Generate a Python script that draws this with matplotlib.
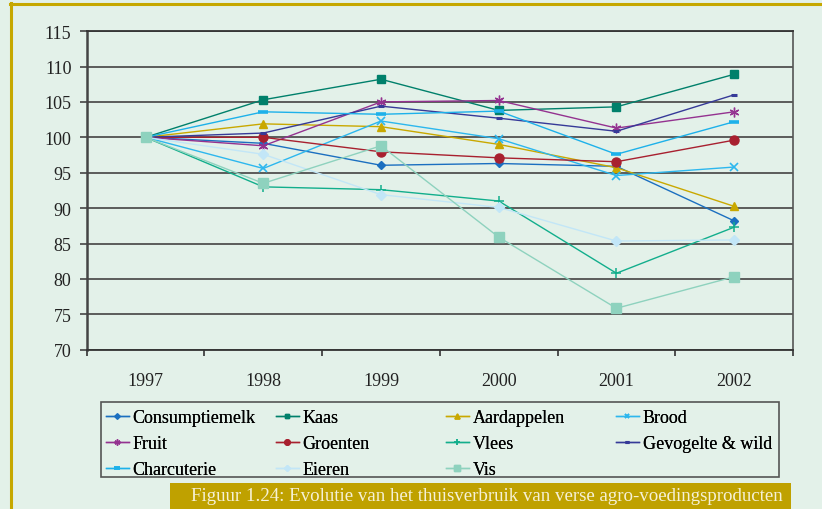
import matplotlib
matplotlib.use("Agg")
import matplotlib.pyplot as plt
from matplotlib.patches import Rectangle
from matplotlib.lines import Line2D

years = ["1997", "1998", "1999", "2000", "2001", "2002"]

consumptiemelk = [100, 99.15, 96.05, 96.3, 95.9, 88.2]
kaas = [100, 105.3, 108.2, 103.8, 104.3, 108.9]
aardappelen = [100, 101.9, 101.5, 99.0, 95.7, 90.25]
brood = [100, 95.6, 102.3, 99.8, 94.6, 95.8]
fruit = [100, 98.8, 105.0, 105.2, 101.3, 103.6]
groenten = [100, 100.0, 97.95, 97.1, 96.55, 99.6]
vlees = [100, 93.0, 92.6, 91.0, 80.8, 87.3]
gevogelte = [100, 100.6, 104.4, 102.7, 100.85, 106.0]
charcuterie = [100, 103.6, 103.25, 103.7, 97.6, 102.2]
eieren = [100, 97.6, 91.9, 90.1, 85.35, 85.5]
vis = [100, 93.5, 98.8, 85.9, 75.85, 80.3]

names = ["Consumptiemelk", "Kaas", "Aardappelen", "Brood", "Fruit", "Groenten",
         "Vlees", "Gevogelte & wild", "Charcuterie", "Eieren", "Vis"]
series = [consumptiemelk, kaas, aardappelen, brood, fruit, groenten,
          vlees, gevogelte, charcuterie, eieren, vis]

yticks = [70, 75, 80, 85, 90, 95, 100, 105, 110, 115]
caption = "Figuur 1.24: Evolutie van het thuisverbruik van verse agro-voedingsproducten"

colors = ["#1B6FC0", "#00806B", "#C9A800", "#2DB7EE", "#943290", "#A8202F",
          "#12AE8C", "#363A98", "#1DB1EA", "#C2E6F7", "#8ED2BE"]
markers = ["D", "s", "^", "x", (6, 2, 0), "o", "+", "_", "_", "D", "s"]
msizes = [4.5, 6, 6, 6, 7, 6.5, 7, 5, 7, 5, 6.5]
mews = [1, 1, 1, 1.2, 1, 1, 1.1, 2.2, 2.6, 1, 1]

BG = "#E3F1E9"
W, H = 822, 510
plt.rcParams["font.family"] = ["Liberation Serif", "DejaVu Serif"]

fig = plt.figure(figsize=(W / 100, H / 100), dpi=100, facecolor=BG)
L, R, T, B = 86.7, 793, 32.1, 350.7
ax = fig.add_axes([L / W, 1 - B / H, (R - L) / W, (B - T) / H])
ax.set_facecolor(BG)

x = list(range(len(years)))
handles = []
for vals, name, c, m, ms, mew in zip(series, names, colors, markers, msizes, mews):
    h, = ax.plot(x, vals, color=c, lw=1.0, marker=m, markersize=ms,
                 markeredgewidth=mew, markerfacecolor=c, markeredgecolor=c,
                 label=name, zorder=3)
    handles.append(h)

ax.set_xlim(-0.5, len(years) - 0.5)
ax.set_ylim(70, 115)
ax.set_yticks(yticks)
ax.set_xticks(x)
ax.set_xticklabels(years)
ax.set_xticks([i - 0.5 for i in range(len(years) + 1)], minor=True)
ax.tick_params(axis="x", which="major", length=0, pad=16, labelsize=13, labelcolor="#222222")
ax.tick_params(axis="x", which="minor", length=4.5, width=1.2, color="#333333", direction="out")
ax.tick_params(axis="y", length=5, width=1.2, color="#444444", pad=6, labelsize=13, labelcolor="#222222")
for yv in yticks:
    ax.axhline(yv, color="#505050", lw=1.3, zorder=1)
ax.spines["left"].set_color("#444444")
ax.spines["left"].set_linewidth(1.8)
ax.spines["bottom"].set_color("#333333")
ax.spines["bottom"].set_linewidth(1.3)
ax.spines["right"].set_color("#555555")
ax.spines["right"].set_linewidth(1.2)
ax.spines["top"].set_color("#333333")
ax.spines["top"].set_linewidth(1.3)

# legend frame
fig.add_artist(Rectangle((101 / W, 1 - 478 / H), 678 / W, 75 / H, transform=fig.transFigure,
                         fill=False, edgecolor="#555555", lw=1.2))
col_x = [106, 276, 446, 616]
for ci in range(4):
    hs = [handles[i] for i in range(ci, len(handles), 4)]
    leg = fig.legend(handles=hs, labels=[h.get_label() for h in hs], loc="upper left",
                     bbox_to_anchor=(col_x[ci] / W, 1 - 410 / H), frameon=False,
                     fontsize=13, handlelength=1.25, handletextpad=0.22,
                     labelspacing=0.5, borderpad=0, borderaxespad=0, markerscale=0.6)
    fig.add_artist(leg)

# caption box
fig.add_artist(Rectangle((170 / W, 0), 621 / W, 26 / H, transform=fig.transFigure,
                         facecolor="#BFA100", edgecolor="none"))
txt = fig.text(486.5 / W, 1 - 497 / H, caption, ha="center", va="center",
               color="#F6F1D6", fontsize=13)
fig.canvas.draw()
wpx = txt.get_window_extent().width
txt.set_fontsize(13 * 591 / wpx)

# gold border
fig.add_artist(Line2D([10 / W, 1], [1 - 5 / H, 1 - 5 / H], transform=fig.transFigure,
                      color="#C6A800", lw=2.2))
fig.add_artist(Line2D([11 / W, 11 / W], [0, 1 - 4 / H], transform=fig.transFigure,
                      color="#C6A800", lw=2.2))

fig.savefig("out.png", dpi=100, facecolor=BG)
